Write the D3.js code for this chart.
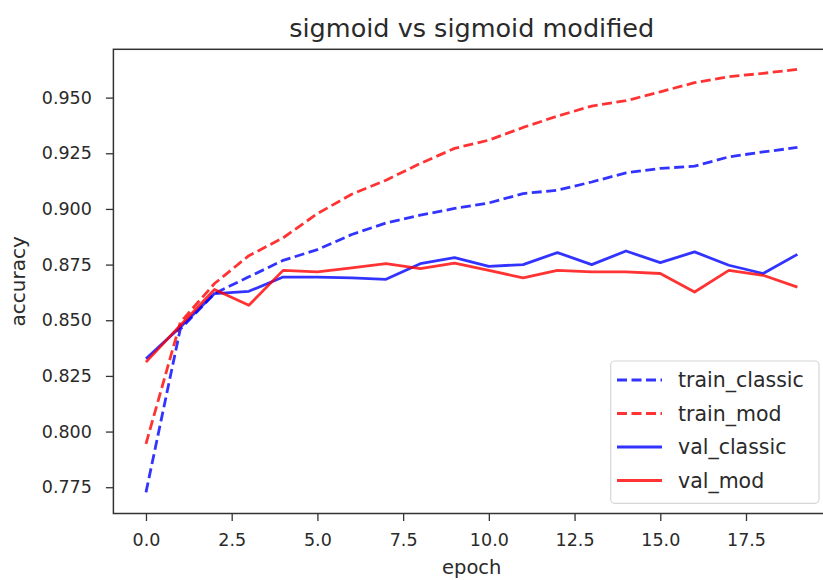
<!DOCTYPE html>
<html>
<head>
<meta charset="utf-8">
<script src="https://cdn.jsdelivr.net/npm/d3@7"></script>
<style>
  html, body { margin: 0; padding: 0; background: #fff; }
  svg { display: block; font-family: "DejaVu Sans", sans-serif; }
</style>
</head>
<body>
<svg id="chart" width="823" height="580"></svg>
<script>
const epochs = d3.range(0, 20);
const trainClassic = [0.7727, 0.8460, 0.8620, 0.8695, 0.8769, 0.8817, 0.8885, 0.8937, 0.8972, 0.9002,
                      0.9027, 0.9069, 0.9084, 0.9121, 0.9162, 0.9182, 0.9192, 0.9234, 0.9256, 0.9276];
const trainMod     = [0.7945, 0.8490, 0.8665, 0.8790, 0.8870, 0.8979, 0.9066, 0.9129, 0.9204, 0.9272,
                      0.9309, 0.9366, 0.9417, 0.9462, 0.9486, 0.9526, 0.9567, 0.9594, 0.9609, 0.9627];
const valClassic   = [0.8327, 0.8469, 0.8620, 0.8630, 0.8694, 0.8694, 0.8690, 0.8684, 0.8754, 0.8781,
                      0.8742, 0.8750, 0.8804, 0.8750, 0.8811, 0.8759, 0.8807, 0.8747, 0.8710, 0.8796];
const valMod       = [0.8312, 0.8477, 0.8638, 0.8567, 0.8724, 0.8717, 0.8735, 0.8754, 0.8732, 0.8757,
                      0.8724, 0.8690, 0.8724, 0.8717, 0.8717, 0.8710, 0.8627, 0.8724, 0.8702, 0.8649];
const xTicks = [0, 2.5, 5, 7.5, 10, 12.5, 15, 17.5];
const yTicks = [0.775, 0.800, 0.825, 0.850, 0.875, 0.900, 0.925, 0.950];

const series = [
  { name: "train_classic", values: trainClassic, color: "#0000ff", dash: "10,4.5" },
  { name: "train_mod",     values: trainMod,     color: "#ff0000", dash: "10,4.5" },
  { name: "val_classic",   values: valClassic,   color: "#0000ff", dash: null },
  { name: "val_mod",       values: valMod,       color: "#ff0000", dash: null }
];

const svg = d3.select("#chart");
const L = 113.4, R = 830, T = 49.3, B = 513.5;
const x = d3.scaleLinear().domain([-0.95, 19.95]).range([L, R]);
const y = d3.scaleLinear().domain([0.7632, 0.9717]).range([B, T]);
const textColor = "#2a2a2a";

// lines
const line = d3.line().x((d, i) => x(epochs[i])).y(d => y(d));
const g = svg.append("g");
series.forEach(s => {
  g.append("path")
    .attr("d", line(s.values))
    .attr("fill", "none")
    .attr("stroke", s.color)
    .attr("stroke-opacity", 0.8)
    .attr("stroke-width", 2.8)
    .attr("stroke-dasharray", s.dash)
    .attr("stroke-linejoin", "round");
});

// frame
svg.append("rect").attr("x", L).attr("y", T).attr("width", R - L).attr("height", B - T)
  .attr("fill", "none").attr("stroke", "#333").attr("stroke-width", 1.5);

// axes
const xAxis = svg.append("g").attr("transform", `translate(0,${B})`)
  .call(d3.axisBottom(x).tickValues(xTicks).tickFormat(d3.format(".1f")).tickSize(7.5).tickPadding(13));
const yAxis = svg.append("g").attr("transform", `translate(${L},0)`)
  .call(d3.axisLeft(y).tickValues(yTicks).tickFormat(d3.format(".3f")).tickSize(7.5).tickPadding(14));
[xAxis, yAxis].forEach(a => {
  a.select(".domain").remove();
  a.selectAll(".tick line").attr("stroke", "#333").attr("stroke-width", 1.3);
  a.selectAll(".tick text").attr("fill", textColor).style("font-size", "17.5px").style("font-family", "DejaVu Sans");
});

// labels
svg.append("text").attr("x", (L + R) / 2).attr("y", 37).attr("text-anchor", "middle")
  .attr("fill", textColor).style("font-size", "25.5px").text("sigmoid vs sigmoid modified");
svg.append("text").attr("x", (L + R) / 2).attr("y", 574).attr("text-anchor", "middle")
  .attr("fill", textColor).style("font-size", "19.5px").text("epoch");
svg.append("text").attr("transform", `translate(25,${(T + B) / 2}) rotate(-90)`).attr("text-anchor", "middle")
  .attr("fill", textColor).style("font-size", "20px").text("accuracy");

// legend
const lg = svg.append("g");
lg.append("rect").attr("x", 610.7).attr("y", 361).attr("width", 208.3).attr("height", 142.3)
  .attr("rx", 4).attr("fill", "#fff").attr("fill-opacity", 0.8).attr("stroke", "#d6d6d6").attr("stroke-width", 1.2);
series.forEach((s, i) => {
  const cy = 380 + i * 33.5;
  lg.append("line").attr("x1", 617).attr("x2", 662).attr("y1", cy).attr("y2", cy)
    .attr("stroke", s.color).attr("stroke-opacity", 0.8).attr("stroke-width", 2.8)
    .attr("stroke-dasharray", s.dash);
  lg.append("text").attr("x", 678).attr("y", cy).attr("dy", "0.35em")
    .attr("fill", textColor).style("font-size", "20.5px").text(s.name);
});
</script>
</body>
</html>
